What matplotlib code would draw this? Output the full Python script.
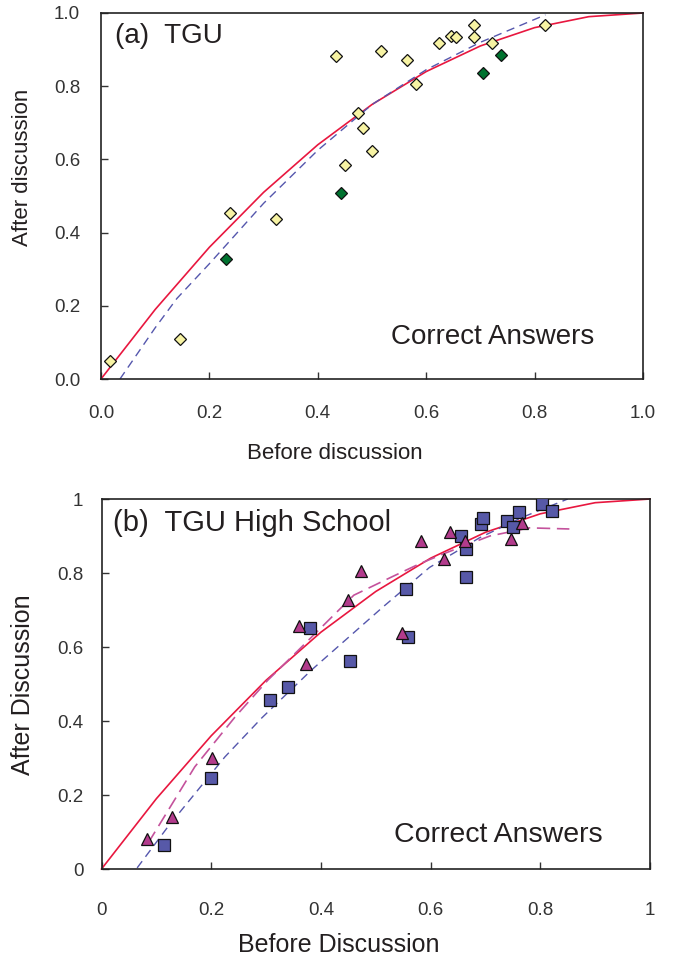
import matplotlib
matplotlib.use("Agg")
import matplotlib.pyplot as plt

plt.rcParams['font.family'] = ['Liberation Sans', 'DejaVu Sans']

# ---------------- data: panel (a) ----------------
tgu_yellow_x = [0.017, 0.146, 0.238, 0.323, 0.434, 0.474, 0.483, 0.500, 0.450, 0.517,
                0.565, 0.581, 0.624, 0.646, 0.655, 0.688, 0.688, 0.721, 0.819]
tgu_yellow_y = [0.049, 0.109, 0.454, 0.437, 0.883, 0.727, 0.686, 0.623, 0.585, 0.896,
                0.872, 0.806, 0.918, 0.937, 0.934, 0.967, 0.934, 0.918, 0.967]
tgu_green_x = [0.231, 0.443, 0.705, 0.738]
tgu_green_y = [0.328, 0.508, 0.836, 0.885]

model_x = [0.0, 0.1, 0.2, 0.3, 0.4, 0.5, 0.6, 0.7, 0.8, 0.9, 1.0]
model_y = [0.0, 0.19, 0.36, 0.51, 0.64, 0.75, 0.84, 0.91, 0.96, 0.99, 1.0]

fit_a_x = [0.035, 0.1, 0.14, 0.2, 0.3, 0.4, 0.5, 0.6, 0.7, 0.82]
fit_a_y = [0.0, 0.14, 0.22, 0.315, 0.48, 0.625, 0.75, 0.845, 0.92, 0.995]

# ---------------- data: panel (b) ----------------
hs_sq_x = [0.114, 0.199, 0.307, 0.340, 0.380, 0.453, 0.555, 0.558, 0.655, 0.664,
           0.664, 0.691, 0.695, 0.740, 0.750, 0.762, 0.804, 0.821]
hs_sq_y = [0.065, 0.246, 0.457, 0.492, 0.651, 0.562, 0.757, 0.627, 0.900, 0.865,
           0.789, 0.932, 0.949, 0.941, 0.924, 0.965, 0.986, 0.968]
hs_tri_x = [0.083, 0.128, 0.201, 0.360, 0.372, 0.449, 0.473, 0.547, 0.582, 0.624,
            0.635, 0.662, 0.746, 0.766]
hs_tri_y = [0.081, 0.141, 0.300, 0.657, 0.554, 0.727, 0.805, 0.638, 0.886, 0.838,
            0.911, 0.886, 0.892, 0.935]

fit_sq_x = [0.065, 0.121, 0.225, 0.292, 0.383, 0.513, 0.598, 0.689, 0.768, 0.85]
fit_sq_y = [0.003, 0.114, 0.303, 0.408, 0.538, 0.708, 0.815, 0.895, 0.951, 1.0]
fit_tri_x = [0.085, 0.17, 0.243, 0.303, 0.358, 0.46, 0.53, 0.58, 0.629, 0.708, 0.78, 0.853]
fit_tri_y = [0.07, 0.276, 0.41, 0.51, 0.59, 0.74, 0.79, 0.825, 0.855, 0.9, 0.922, 0.919]

RED = '#E8173F'
BLUE_LINE = '#5557AD'
MAG_LINE = '#C4529C'
TXT = '#231F20'

fig = plt.figure(figsize=(6.77, 9.58), dpi=100)

def style(ax, xticks, xlabels, yticks, ylabels, fs, xpad, ypad):
    ax.set_xlim(0, 1)
    ax.set_ylim(0, 1)
    ax.set_xticks(xticks)
    ax.set_xticklabels(xlabels)
    ax.set_yticks(yticks)
    ax.set_yticklabels(ylabels)
    ax.tick_params(direction='in', length=5, width=1.0, labelsize=fs,
                   labelcolor='#333333', color='#333333')
    ax.tick_params(axis='x', pad=xpad)
    ax.tick_params(axis='y', pad=ypad)
    for s in ax.spines.values():
        s.set_linewidth(1.2)
        s.set_color('#222222')

# ---------------- panel (a) ----------------
ax1 = fig.add_axes([101/677, 1 - 379/958, 542/677, 366/958])
ax1.plot(model_x, model_y, color=RED, lw=1.2, zorder=2, clip_on=False)
ax1.plot(fit_a_x, fit_a_y, color=BLUE_LINE, lw=1.0, dashes=(6, 4), zorder=2)
ax1.plot(tgu_yellow_x, tgu_yellow_y, ls='none', marker='D', ms=6.3,
         mfc='#F7F3A3', mec='#111111', mew=0.9, zorder=3, clip_on=False)
ax1.plot(tgu_green_x, tgu_green_y, ls='none', marker='D', ms=6.3,
         mfc='#00722F', mec='#111111', mew=0.9, zorder=3)
ticks = [0, 0.2, 0.4, 0.6, 0.8, 1.0]
style(ax1, ticks, ['0.0', '0.2', '0.4', '0.6', '0.8', '1.0'],
      ticks, ['0.0', '0.2', '0.4', '0.6', '0.8', '1.0'], 13.5, 19, 15)
ax1.set_xlabel('Before discussion', fontsize=16, color=TXT)
ax1.xaxis.set_label_coords(0.432, -0.175)
ax1.set_ylabel('After discussion', fontsize=16, color=TXT)
ax1.yaxis.set_label_coords(-0.125, 0.577)
ax1.text(0.026, 0.937, '(a)  TGU', transform=ax1.transAxes, fontsize=20,
         color=TXT, ha='left', va='center')
ax1.text(0.722, 0.115, 'Correct Answers', transform=ax1.transAxes, fontsize=20,
         color=TXT, ha='center', va='center')

# ---------------- panel (b) ----------------
ax2 = fig.add_axes([101.5/677, 1 - 869/958, 548.5/677, 370/958])
ax2.plot(model_x, model_y, color=RED, lw=1.2, zorder=2, clip_on=False)
ax2.plot(fit_sq_x, fit_sq_y, color=BLUE_LINE, lw=1.0, dashes=(6, 4), zorder=2)
ax2.plot(fit_tri_x, fit_tri_y, color=MAG_LINE, lw=1.2, dashes=(8, 4), zorder=2)
ax2.plot(hs_sq_x, hs_sq_y, ls='none', marker='s', ms=8.5,
         mfc='#5759A8', mec='#111111', mew=0.9, zorder=3)
ax2.plot(hs_tri_x, hs_tri_y, ls='none', marker='^', ms=9,
         mfc='#B23B8C', mec='#111111', mew=0.9, zorder=4)
style(ax2, ticks, ['0', '0.2', '0.4', '0.6', '0.8', '1'],
      ticks, ['0', '0.2', '0.4', '0.6', '0.8', '1'], 13.5, 24, 13)
ax2.set_xlabel('Before Discussion', fontsize=18, color=TXT)
ax2.xaxis.set_label_coords(0.433, -0.173)
ax2.set_ylabel('After Discussion', fontsize=18, color=TXT)
ax2.yaxis.set_label_coords(-0.121, 0.497)
ax2.text(0.021, 0.936, '(b)  TGU High School', transform=ax2.transAxes, fontsize=21,
         color=TXT, ha='left', va='center')
ax2.text(0.723, 0.092, 'Correct Answers', transform=ax2.transAxes, fontsize=20.5,
         color=TXT, ha='center', va='center')

fig.savefig('out.png', dpi=100)
